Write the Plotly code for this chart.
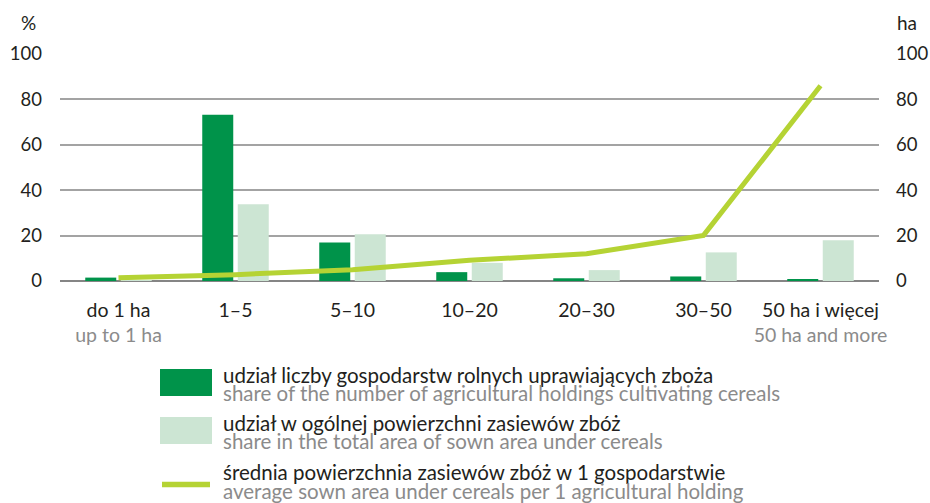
import plotly.graph_objects as go

# ---- data ----
categories_pl = ["do 1 ha", "1–5", "5–10", "10–20", "20–30", "30–50", "50 ha i więcej"]
categories_en = ["up to 1 ha", "", "", "", "", "", "50 ha and more"]
share_holdings = [1.5, 73.2, 17.0, 3.9, 1.2, 2.0, 0.8]      # % (left axis)
share_area = [0.2, 33.8, 20.6, 8.0, 4.8, 12.6, 17.9]        # % (left axis)
avg_area = [1.4, 2.8, 5.0, 9.1, 12.0, 20.1, 86.0]           # ha (right axis)
y_ticks = [0, 20, 40, 60, 80, 100]

legend_pl = ["udział liczby gospodarstw rolnych uprawiających zboża",
             "udział w ogólnej powierzchni zasiewów zbóż",
             "średnia powierzchnia zasiewów zbóż w 1 gospodarstwie"]
legend_en = ["share of the number of agricultural holdings cultivating cereals",
             "share in the total area of sown area under cereals",
             "average sown area under cereals per 1 agricultural holding"]

DARK = "#00934a"
LIGHT = "#cce5d3"
LINE = "#b5d334"
TXT = "#231f20"
GRAY_TXT = "#8b8b8b"
FONT = "Lato"

W, H = 930, 503
# plot area in window pixels: x 60..879, y 54..281
ML, MR, MT, MB = 60, 930 - 879, 54, 503 - 281
PW, PH = W - ML - MR, H - MT - MB


def px(x):
    """window pixel x -> paper x"""
    return (x - ML) / PW


def py(y):
    """window pixel y -> paper y"""
    return (MT + PH - y) / PH


ticktext = []
for pl, en in zip(categories_pl, categories_en):
    t = pl
    if en:
        t += f"<br><span style='color:{GRAY_TXT}'>{en}</span>"
    ticktext.append(t)

fig = go.Figure()
fig.add_trace(go.Bar(x=categories_pl, y=share_holdings, marker=dict(color=DARK, line=dict(width=0)),
                     name=legend_pl[0], yaxis="y"))
fig.add_trace(go.Bar(x=categories_pl, y=share_area, marker=dict(color=LIGHT, line=dict(width=0)),
                     name=legend_pl[1], yaxis="y"))
fig.add_trace(go.Scatter(x=categories_pl, y=avg_area, mode="lines", line=dict(color=LINE, width=5),
                         name=legend_pl[2], yaxis="y2"))

fig.update_layout(
    width=W, height=H,
    margin=dict(l=ML, r=MR, t=MT, b=MB, pad=0, autoexpand=False),
    paper_bgcolor="white", plot_bgcolor="white",
    showlegend=False,
    barmode="group", bargap=0.393, bargroupgap=0.127,
    font=dict(family=FONT, color=TXT),
    xaxis=dict(type="category", tickmode="array", tickvals=categories_pl, ticktext=ticktext,
               tickfont=dict(size=19.5, color=TXT), showgrid=False, showline=False, ticks="",
               ticklabelstandoff=15, range=[-0.5, 6.5]),
    yaxis=dict(range=[0, 100], tickvals=y_ticks, tickfont=dict(size=18.5, color=TXT),
               showgrid=True, gridcolor="#a3a3a3", gridwidth=1.5,
               zeroline=True, zerolinecolor="#858585", zerolinewidth=2,
               showline=False, ticks="", ticklabelstandoff=17),
    yaxis2=dict(range=[0, 100], tickvals=y_ticks, tickfont=dict(size=18.5, color=TXT),
                overlaying="y", side="right", showgrid=False, zeroline=False,
                showline=False, ticks="", ticklabelstandoff=16),
)

# axis unit labels
fig.add_annotation(x=px(28), y=py(22), xref="paper", yref="paper", text="%", showarrow=False,
                   font=dict(size=19, color=TXT), xanchor="center", yanchor="middle")
fig.add_annotation(x=px(907), y=py(22), xref="paper", yref="paper", text="ha", showarrow=False,
                   font=dict(size=19, color=TXT), xanchor="center", yanchor="middle")

# custom legend
fig.add_shape(type="rect", xref="paper", yref="paper", x0=px(160), x1=px(212), y0=py(369), y1=py(396),
              fillcolor=DARK, line=dict(width=0))
fig.add_shape(type="rect", xref="paper", yref="paper", x0=px(160), x1=px(212), y0=py(417), y1=py(444),
              fillcolor=LIGHT, line=dict(width=0))
fig.add_shape(type="line", xref="paper", yref="paper", x0=px(162), x1=px(210), y0=py(484.5), y1=py(484.5),
              line=dict(color=LINE, width=5.5))

text_y = [(375, 393), (423, 441), (472, 491)]
for (ya, yb), pl, en in zip(text_y, legend_pl, legend_en):
    fig.add_annotation(x=px(221), y=py(ya), xref="paper", yref="paper", text=pl, showarrow=False,
                       font=dict(size=20.5, color=TXT), xanchor="left", yanchor="middle")
    fig.add_annotation(x=px(221), y=py(yb), xref="paper", yref="paper", text=en, showarrow=False,
                       font=dict(size=20.5, color=GRAY_TXT), xanchor="left", yanchor="middle")

fig.write_html("out.html", config={"displayModeBar": False},
               post_script="document.body.style.margin='0';document.body.style.overflow='hidden';")
